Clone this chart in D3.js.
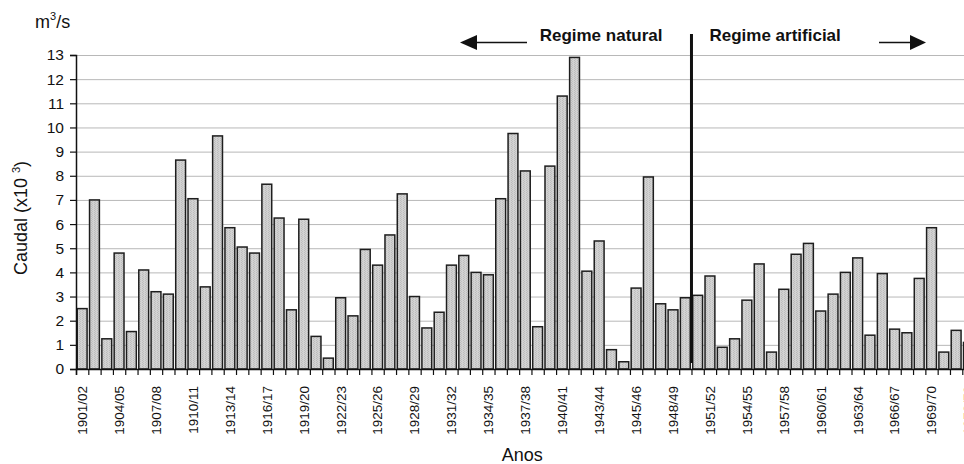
<!DOCTYPE html>
<html><head><meta charset="utf-8">
<script src="https://cdn.jsdelivr.net/npm/d3@7"></script>
<style>
body{margin:0;background:#fff}
svg{display:block}
text{font-family:Arial,"Liberation Sans",sans-serif;fill:#111}
</style></head>
<body><svg id="c" width="964" height="464"></svg>
<script>
const years = [
"1901/02","1902/03","1903/04","1904/05","1905/06","1906/07","1907/08","1908/09","1909/10","1910/11",
"1911/12","1912/13","1913/14","1914/15","1915/16","1916/17","1917/18","1918/19","1919/20","1920/21",
"1921/22","1922/23","1923/24","1924/25","1925/26","1926/27","1927/28","1928/29","1929/30","1930/31",
"1931/32","1932/33","1933/34","1934/35","1935/36","1936/37","1937/38","1938/39","1939/40","1940/41",
"1941/42","1942/43","1943/44","1944/45","1944/45","1945/46","1946/47","1947/48","1948/49","1949/50",
"1950/51","1951/52","1952/53","1953/54","1954/55","1955/56","1956/57","1957/58","1958/59","1959/60",
"1960/61","1961/62","1962/63","1963/64","1964/65","1965/66","1966/67","1967/68","1968/69","1969/70",
"1970/71","1971/72","1972/73"];
const flow = [
2.5,7.0,1.25,4.8,1.55,4.1,3.2,3.1,8.65,7.05,
3.4,9.65,5.85,5.05,4.8,7.65,6.25,2.45,6.2,1.35,
0.45,2.95,2.2,4.95,4.3,5.55,7.25,3.0,1.7,2.35,
4.3,4.7,4.0,3.9,7.05,9.75,8.2,1.75,8.4,11.3,
12.9,4.05,5.3,0.8,0.3,3.35,7.95,2.7,2.45,2.95,
3.05,3.85,0.9,1.25,2.85,4.35,0.7,3.3,4.75,5.2,
2.4,3.1,4.0,4.6,1.4,3.95,1.65,1.5,3.75,5.85,
0.7,1.6,1.1];
const yTicks = [0,1,2,3,4,5,6,7,8,9,10,11,12,13];
const regimeLabels = ["Regime natural","Regime artificial"];
const regimeBreakIndex = 50; // first year of "Regime artificial"

const svg = d3.select("#c");
const pLeft = 76, pRight = 974.6, pTop = 55, pBottom = 369;
const idx = years.map((d,i)=>i);

const x = d3.scaleBand().domain(idx).range([pLeft,pRight]).paddingInner(0.2).paddingOuter(0.1);
const xb = d3.scaleLinear().domain([0,years.length]).range([pLeft,pRight]);
const y = d3.scaleLinear().domain([0,13]).range([pBottom,pTop]);

const defs = svg.append("defs");
const pat = defs.append("pattern").attr("id","tex").attr("width",3).attr("height",2).attr("patternUnits","userSpaceOnUse");
pat.append("rect").attr("width",3).attr("height",2).attr("fill","#d2d2d2");
pat.append("rect").attr("x",1).attr("width",1).attr("height",1).attr("fill","#bcbcbc");
pat.append("rect").attr("x",2).attr("y",1).attr("width",1).attr("height",1).attr("fill","#c0c0c0");

// gridlines
svg.append("g").selectAll("line").data(yTicks.filter(d=>d>0)).join("line")
  .attr("x1",pLeft).attr("x2",964).attr("y1",d=>y(d)+0.5).attr("y2",d=>y(d)+0.5)
  .attr("stroke","#b8b8b8").attr("stroke-width",1);

// bars
svg.append("g").selectAll("rect").data(flow).join("rect")
  .attr("x",(d,i)=>x(i)).attr("width",x.bandwidth())
  .attr("y",d=>y(d)).attr("height",d=>y(0)-y(d))
  .attr("fill","url(#tex)").attr("stroke","#1e1e1e").attr("stroke-width",1.5);

// y axis
const ya = svg.append("g").attr("transform",`translate(${pLeft},0)`)
  .call(d3.axisLeft(y).tickValues(yTicks).tickSize(6).tickPadding(6).tickFormat(d3.format("d")));
ya.select(".domain").attr("stroke","#111").attr("stroke-width",1.5);
ya.selectAll(".tick line").attr("stroke","#111").attr("stroke-width",1.2);
ya.selectAll("text").style("font-size","15.5px").attr("fill","#111");

// x axis boundary ticks
const xa = svg.append("g").attr("transform",`translate(0,${pBottom})`)
  .call(d3.axisBottom(xb).tickValues(d3.range(years.length+1)).tickSize(6).tickFormat(""));
xa.select(".domain").attr("stroke","#111").attr("stroke-width",1.5);
xa.selectAll(".tick line").attr("stroke","#111").attr("stroke-width",1.2);

// x labels every 3rd year
const xl = svg.append("g").attr("transform",`translate(0,${pBottom})`)
  .call(d3.axisBottom(x).tickValues(idx.filter(i=>i%3===0)).tickSize(0).tickFormat(i=>years[i]));
xl.select(".domain").remove();
xl.selectAll("text").attr("transform","rotate(-90)").attr("x",-17).attr("y",0).attr("dy","0.36em")
  .attr("text-anchor","end").style("font-size","13.5px").attr("fill","#111");

// axis titles
svg.append("text").attr("transform",`translate(27,218) rotate(-90)`).attr("text-anchor","middle")
  .style("font-size","18px")
  .call(t=>{t.append("tspan").text("Caudal (x10 ");t.append("tspan").attr("dy",-7).style("font-size","11px").text("3");t.append("tspan").attr("dy",7).text(")");});
svg.append("text").attr("x",(pLeft+pRight)/2-3).attr("y",461).attr("text-anchor","middle").style("font-size","18px").text("Anos");
svg.append("text").attr("x",35).attr("y",28).style("font-size","18px")
  .call(t=>{t.append("tspan").text("m");t.append("tspan").attr("dy",-8).style("font-size","11px").text("3");t.append("tspan").attr("dy",8).text("/s");});

// regime divider
const bx = xb(regimeBreakIndex);
svg.append("line").attr("x1",bx).attr("x2",bx).attr("y1",34).attr("y2",pBottom-6)
  .attr("stroke","#111").attr("stroke-width",3);

svg.append("text").attr("x",bx-29).attr("y",41).attr("text-anchor","end")
  .style("font-size","17px").style("font-weight","bold").text(regimeLabels[0]);
svg.append("text").attr("x",bx+18).attr("y",41)
  .style("font-size","17px").style("font-weight","bold").text(regimeLabels[1]);

// arrows
svg.append("line").attr("x1",474).attr("x2",527).attr("y1",42.5).attr("y2",42.5).attr("stroke","#111").attr("stroke-width",1.5);
svg.append("path").attr("d","M460,42.5 L477,35 L477,50 Z").attr("fill","#111");
svg.append("line").attr("x1",879).attr("x2",912).attr("y1",42.5).attr("y2",42.5).attr("stroke","#111").attr("stroke-width",1.5);
svg.append("path").attr("d","M926,42.5 L910,35 L910,50 Z").attr("fill","#111");
</script>
</body></html>
